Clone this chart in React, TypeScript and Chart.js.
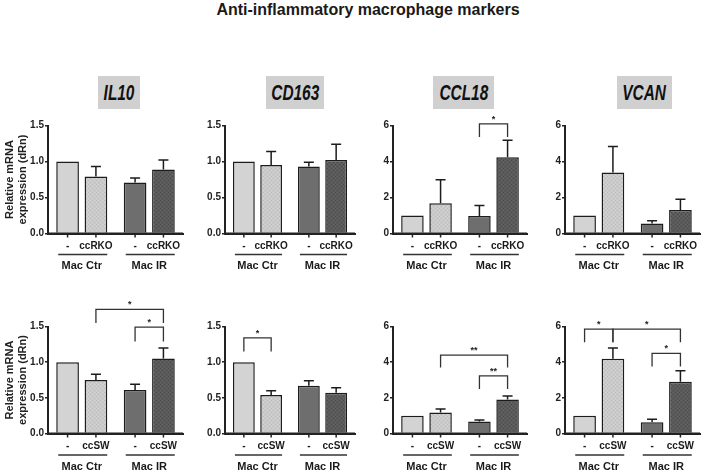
import React, { useEffect, useRef } from 'react';
import { Chart, registerables } from 'chart.js';

Chart.register(...registerables);

const FONT = 'Arial, "Liberation Sans", sans-serif';
Chart.defaults.font.family = FONT;

// ---------- data ----------
const MAIN_TITLE = 'Anti-inflammatory macrophage markers';
const GENES = ['IL10', 'CD163', 'CCL18', 'VCAN'];
const GROUPS = ['Mac Ctr', 'Mac IR'];
const RKO_LABELS = ['-', 'ccRKO'];
const SW_LABELS = ['-', 'ccSW'];
const Y_TITLE = ['Relative mRNA', 'expression (dRn)'];

// bar order: [Mac Ctr -, Mac Ctr cc, Mac IR -, Mac IR cc]
const IL10_RKO = [1.0, 0.79, 0.71, 0.89];
const IL10_RKO_ERR = [0, 0.14, 0.06, 0.13];
const CD163_RKO = [1.0, 0.95, 0.93, 1.02];
const CD163_RKO_ERR = [0, 0.19, 0.06, 0.22];
const CCL18_RKO = [1.0, 1.68, 0.97, 4.23];
const CCL18_RKO_ERR = [0, 1.3, 0.59, 0.95];
const VCAN_RKO = [1.0, 3.39, 0.56, 1.3];
const VCAN_RKO_ERR = [0, 1.45, 0.15, 0.6];

const IL10_SW = [1.0, 0.75, 0.61, 1.05];
const IL10_SW_ERR = [0, 0.08, 0.08, 0.15];
const CD163_SW = [1.0, 0.54, 0.67, 0.57];
const CD163_SW_ERR = [0, 0.06, 0.07, 0.07];
const CCL18_SW = [1.0, 1.18, 0.67, 1.9];
const CCL18_SW_ERR = [0, 0.19, 0.09, 0.2];
const VCAN_SW = [1.0, 4.19, 0.63, 2.9];
const VCAN_SW_ERR = [0, 0.6, 0.17, 0.62];

const SCALE_SMALL = { max: 1.5, step: 0.5, decimals: 1 };
const SCALE_BIG = { max: 6, step: 2, decimals: 0 };

// significance brackets: bars a..b, bracket level, leg bottom (data units), label
type Sig = { a: number; b: number; level: number; leg: number; label: string };
const CCL18_RKO_SIG: Sig[] = [{ a: 2, b: 3, level: 6.09, leg: 5.36, label: '*' }];
const IL10_SW_SIG: Sig[] = [
  { a: 1, b: 3, level: 1.74, leg: 1.55, label: '*' },
  { a: 2, b: 3, level: 1.49, leg: 1.29, label: '*' },
];
const CD163_SW_SIG: Sig[] = [{ a: 0, b: 1, level: 1.34, leg: 1.15, label: '*' }];
const CCL18_SW_SIG: Sig[] = [
  { a: 1, b: 3, level: 4.39, leg: 3.7, label: '**' },
  { a: 2, b: 3, level: 3.23, leg: 2.49, label: '**' },
];
const VCAN_SW_SIG: Sig[] = [
  { a: 0, b: 1, level: 5.85, leg: 5.12, label: '*' },
  { a: 1, b: 3, level: 5.85, leg: 5.12, label: '*' },
  { a: 2, b: 3, level: 4.49, leg: 3.76, label: '*' },
];

type PanelSpec = {
  values: number[];
  errors: number[];
  scale: { max: number; step: number; decimals: number };
  cats: string[];
  sigs: Sig[];
};

const PANELS: PanelSpec[][] = [
  [
    { values: IL10_RKO, errors: IL10_RKO_ERR, scale: SCALE_SMALL, cats: RKO_LABELS, sigs: [] },
    { values: CD163_RKO, errors: CD163_RKO_ERR, scale: SCALE_SMALL, cats: RKO_LABELS, sigs: [] },
    { values: CCL18_RKO, errors: CCL18_RKO_ERR, scale: SCALE_BIG, cats: RKO_LABELS, sigs: CCL18_RKO_SIG },
    { values: VCAN_RKO, errors: VCAN_RKO_ERR, scale: SCALE_BIG, cats: RKO_LABELS, sigs: [] },
  ],
  [
    { values: IL10_SW, errors: IL10_SW_ERR, scale: SCALE_SMALL, cats: SW_LABELS, sigs: IL10_SW_SIG },
    { values: CD163_SW, errors: CD163_SW_ERR, scale: SCALE_SMALL, cats: SW_LABELS, sigs: CD163_SW_SIG },
    { values: CCL18_SW, errors: CCL18_SW_ERR, scale: SCALE_BIG, cats: SW_LABELS, sigs: CCL18_SW_SIG },
    { values: VCAN_SW, errors: VCAN_SW_ERR, scale: SCALE_BIG, cats: SW_LABELS, sigs: VCAN_SW_SIG },
  ],
];

// ---------- layout ----------
const COLS = [
  { axisX: 48, end: 183 },
  { axisX: 225, end: 355 },
  { axisX: 393, end: 527 },
  { axisX: 565, end: 700 },
];
const ROWS = [
  { top: 125.5, bottom: 233.5, canvasTop: 100, canvasBottom: 278, catDy: 12.5, lineDy: 21, groupDy: 32 },
  { top: 326.5, bottom: 433.5, canvasTop: 288, canvasBottom: 472, catDy: 12.5, lineDy: 21.5, groupDy: 33 },
];
const GENE_BOXES = [
  { left: 98, width: 42 },
  { left: 266, width: 58 },
  { left: 433, width: 61 },
  { left: 617, width: 55 },
];

const C_LIGHT = '#d3d3d3';
const C_DARK = '#6e6e6e';
const C_EDGE = '#1c1c1c';

function makePattern(base: string, dot: string, dot2: string) {
  const c = document.createElement('canvas');
  c.width = 4;
  c.height = 4;
  const g = c.getContext('2d')!;
  g.fillStyle = base;
  g.fillRect(0, 0, 4, 4);
  g.fillStyle = dot;
  g.fillRect(0, 0, 1, 1);
  g.fillRect(2, 2, 1, 1);
  g.fillStyle = dot2;
  g.fillRect(2, 0, 1, 1);
  g.fillRect(0, 2, 1, 1);
  return g.createPattern(c, 'repeat')!;
}

function Panel({ spec, col, row }: { spec: PanelSpec; col: number; row: number }) {
  const ref = useRef<HTMLCanvasElement>(null);
  const c = COLS[col];
  const r = ROWS[row];
  const yw = col === 0 ? 48 : 30;
  const left = c.axisX - yw;
  const width = c.end - left + 6;
  const height = r.canvasBottom - r.canvasTop;

  useEffect(() => {
    const patLight = makePattern('#cacaca', '#bababa', '#d6d6d6');
    const patDark = makePattern('#5a5a5a', '#4a4a4a', '#666666');
    const v = spec.values;
    const e = spec.errors;

    const barAt = (chart: any, i: number) => {
      const el = chart.getDatasetMeta(i % 2).data[Math.floor(i / 2)];
      return { x: el.x as number, w: el.width as number };
    };

    const plugin = {
      id: 'annot',
      afterDatasetsDraw(chart: any) {
        const { ctx } = chart;
        const ys = chart.scales.y;
        ctx.save();
        // error bars (upper only)
        ctx.strokeStyle = C_EDGE;
        ctx.lineWidth = 1.5;
        for (let i = 0; i < 4; i++) {
          if (!e[i]) continue;
          const b = barAt(chart, i);
          const y0 = ys.getPixelForValue(v[i]);
          const y1 = ys.getPixelForValue(v[i] + e[i]);
          ctx.beginPath();
          ctx.moveTo(b.x, y0);
          ctx.lineTo(b.x, y1);
          ctx.moveTo(b.x - 5, y1);
          ctx.lineTo(b.x + 5, y1);
          ctx.stroke();
        }
        // brackets
        ctx.strokeStyle = '#333';
        ctx.lineWidth = 1.3;
        ctx.fillStyle = '#222';
        ctx.font = `bold 9px ${FONT}`;
        ctx.textAlign = 'center';
        ctx.textBaseline = 'alphabetic';
        for (const s of spec.sigs) {
          const xa = barAt(chart, s.a).x;
          const xb = barAt(chart, s.b).x;
          const yl = ys.getPixelForValue(s.level);
          const yg = ys.getPixelForValue(s.leg);
          ctx.beginPath();
          ctx.moveTo(xa, yg);
          ctx.lineTo(xa, yl);
          ctx.lineTo(xb, yl);
          ctx.lineTo(xb, yg);
          ctx.stroke();
          ctx.fillText(s.label, (xa + xb) / 2, yl - 2);
        }
        // redraw x axis line over bar bottoms
        const ca = chart.chartArea;
        ctx.strokeStyle = '#222';
        ctx.lineWidth = 2;
        ctx.beginPath();
        ctx.moveTo(ca.left - 1, ca.bottom);
        ctx.lineTo(ca.right, ca.bottom);
        ctx.stroke();
        ctx.restore();
      },
      afterDraw(chart: any) {
        const { ctx, chartArea } = chart;
        const bottom = chartArea.bottom;
        ctx.save();
        ctx.strokeStyle = '#222';
        ctx.lineWidth = 1.5;
        ctx.fillStyle = '#1a1a1a';
        ctx.textAlign = 'center';
        ctx.textBaseline = 'middle';
        ctx.font = `bold 10px ${FONT}`;
        for (let i = 0; i < 4; i++) {
          const b = barAt(chart, i);
          ctx.beginPath();
          ctx.moveTo(b.x, bottom);
          ctx.lineTo(b.x, bottom + 4);
          ctx.stroke();
          ctx.fillText(spec.cats[i % 2], b.x, bottom + r.catDy);
        }
        ctx.strokeStyle = '#333';
        ctx.font = `bold 11px ${FONT}`;
        for (let g = 0; g < 2; g++) {
          const b0 = barAt(chart, g * 2);
          const b1 = barAt(chart, g * 2 + 1);
          const x0 = b0.x - b0.w / 2 + 2;
          const x1 = b1.x + b1.w / 2;
          ctx.beginPath();
          ctx.moveTo(x0, bottom + r.lineDy);
          ctx.lineTo(x1, bottom + r.lineDy);
          ctx.stroke();
          ctx.fillText(GROUPS[g], (b0.x + b1.x) / 2, bottom + r.groupDy);
        }
        ctx.restore();
      },
    };

    const common = {
      borderColor: C_EDGE,
      borderWidth: 1.5,
      borderSkipped: 'bottom',
      categoryPercentage: 0.84,
      barPercentage: 0.8,
    };

    const chart = new Chart(ref.current!, {
      type: 'bar',
      data: {
        labels: GROUPS,
        datasets: [
          { ...common, data: [v[0], v[2]], backgroundColor: [C_LIGHT, C_DARK] },
          { ...common, data: [v[1], v[3]], backgroundColor: [patLight, patDark] },
        ],
      } as any,
      options: {
        responsive: false,
        animation: false,
        events: [],
        layout: {
          padding: {
            left: 0,
            right: 6,
            top: r.top - r.canvasTop,
            bottom: r.canvasBottom - r.bottom,
          },
        },
        plugins: { legend: { display: false }, tooltip: { enabled: false } },
        scales: {
          x: {
            ticks: { display: false },
            grid: { display: false },
            border: { display: true, color: '#222', width: 2 },
            afterFit: (s: any) => {
              s.height = 0;
            },
          },
          y: {
            min: 0,
            max: spec.scale.max,
            ticks: {
              stepSize: spec.scale.step,
              color: '#222',
              padding: 1,
              font: { size: 10, weight: 'bold' },
              callback: (val: any) => Number(val).toFixed(spec.scale.decimals),
            },
            grid: {
              display: true,
              drawOnChartArea: false,
              drawTicks: true,
              tickLength: 3,
              color: '#222',
              lineWidth: 1.5,
            },
            border: { display: true, color: '#222', width: 2 },
            title: {
              display: col === 0,
              text: Y_TITLE,
              color: '#222',
              font: { size: 11, weight: 'bold' },
              padding: { top: 3, bottom: 0 },
            },
            afterFit: (s: any) => {
              s.width = yw;
            },
          },
        },
      } as any,
      plugins: [plugin],
    });
    return () => chart.destroy();
  }, []);

  return (
    <canvas
      ref={ref}
      width={width}
      height={height}
      style={{ position: 'absolute', left, top: r.canvasTop, width, height }}
    />
  );
}

export default function App() {
  return (
    <div
      style={{
        position: 'fixed',
        left: 0,
        top: 0,
        width: 704,
        height: 472,
        background: '#fff',
        fontFamily: FONT,
        overflow: 'hidden',
      }}
    >
      <div
        style={{
          position: 'absolute',
          left: 203,
          top: 1,
          width: 330,
          textAlign: 'center',
          fontSize: 16,
          fontWeight: 'bold',
          color: '#1a1a1a',
          whiteSpace: 'nowrap',
          lineHeight: '18px',
        }}
      >
        {MAIN_TITLE}
      </div>
      {GENES.map((g, i) => (
        <div
          key={g}
          style={{
            position: 'absolute',
            left: GENE_BOXES[i].left,
            top: 76,
            width: GENE_BOXES[i].width,
            height: 33,
            background: '#d0d0d0',
            display: 'flex',
            alignItems: 'center',
            justifyContent: 'center',
            overflow: 'visible',
          }}
        >
          <span
            style={{
              display: 'inline-block',
              fontSize: 22,
              fontWeight: 'bold',
              fontStyle: 'italic',
              color: '#111',
              transform: 'scaleX(0.7)',
              whiteSpace: 'nowrap',
            }}
          >
            {g}
          </span>
        </div>
      ))}
      {PANELS.map((rowSpecs, row) =>
        rowSpecs.map((spec, col) => <Panel key={`${row}-${col}`} spec={spec} col={col} row={row} />)
      )}
    </div>
  );
}
